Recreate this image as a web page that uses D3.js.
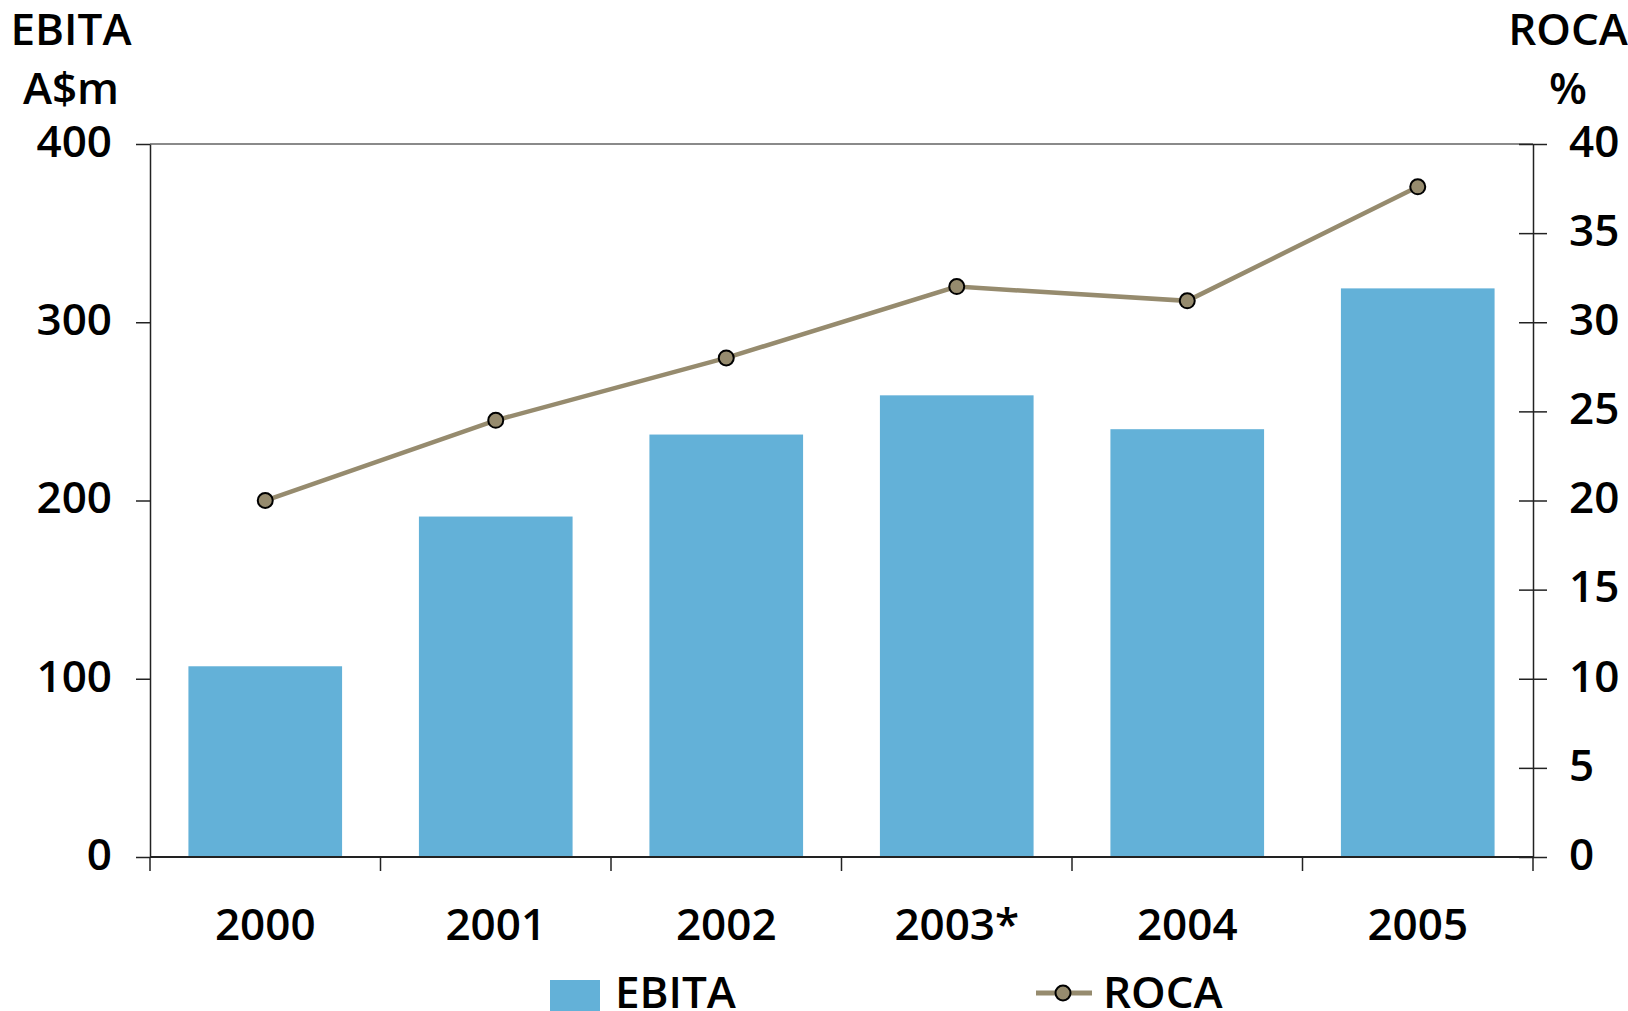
<!DOCTYPE html>
<html>
<head>
<meta charset="utf-8">
<script src="https://cdn.jsdelivr.net/npm/d3@7"></script>
<style>
  html, body { margin: 0; padding: 0; background: #fff; }
  svg { display: block; }
  text { font-family: "Open Sans", "Noto Sans", sans-serif; font-weight: 600; fill: #000; }
</style>
</head>
<body>
<svg id="chart" width="1628" height="1011"></svg>
<script>
// EBITA (A$m, bars, left axis) and ROCA (%, line, right axis) by year
const years = ["2000", "2001", "2002", "2003*", "2004", "2005"];
const ebita = [107, 191, 237, 259, 240, 319];
const roca = [20.0, 24.5, 28.0, 32.0, 31.2, 37.6];
const leftTicks = [0, 100, 200, 300, 400];
const rightTicks = [0, 5, 10, 15, 20, 25, 30, 35, 40];

const svg = d3.select("#chart");
const plot = { left: 150, right: 1533, top: 144, bottom: 857 };

const barColor = "#63b1d8";
const lineColor = "#968b6e";
const fontSize = 44;

const x = d3.scaleBand()
  .domain(years)
  .range([plot.left, plot.right])
  .paddingInner(1 / 3)
  .paddingOuter(1 / 6);

const yL = d3.scaleLinear().domain([0, 400]).range([plot.bottom, plot.top]);
const yR = d3.scaleLinear().domain([0, 40]).range([plot.bottom, plot.top]);

// Bars
svg.append("g")
  .selectAll("rect")
  .data(years)
  .join("rect")
  .attr("x", d => x(d))
  .attr("width", x.bandwidth())
  .attr("y", (d, i) => yL(ebita[i]))
  .attr("height", (d, i) => yL(0) - yL(ebita[i]))
  .attr("fill", barColor);

// Top frame line
svg.append("line")
  .attr("x1", plot.left).attr("x2", plot.right)
  .attr("y1", yL(400)).attr("y2", yL(400))
  .attr("stroke", "#8a8a8a").attr("stroke-width", 2);

// Left axis
const leftAxis = svg.append("g")
  .attr("transform", `translate(${plot.left},0)`)
  .call(d3.axisLeft(yL).tickValues(leftTicks).tickSize(14).tickPadding(24).tickSizeOuter(0));
leftAxis.select(".domain").attr("stroke", "#222").attr("stroke-width", 1.5);
leftAxis.selectAll(".tick line").attr("stroke", "#222").attr("stroke-width", 1.5);
leftAxis.selectAll(".tick text")
  .attr("font-size", fontSize).attr("font-family", null).attr("dy", "0.28em");

// Right axis (ticks cross the axis line)
const rightAxis = svg.append("g")
  .attr("transform", `translate(${plot.right},0)`)
  .call(d3.axisRight(yR).tickValues(rightTicks).tickSize(14).tickPadding(22).tickSizeOuter(0));
rightAxis.select(".domain").attr("stroke", "#222").attr("stroke-width", 1.5);
rightAxis.selectAll(".tick line")
  .attr("x1", -14).attr("x2", 14)
  .attr("stroke", "#222").attr("stroke-width", 1.5);
rightAxis.selectAll(".tick text")
  .attr("font-size", fontSize).attr("font-family", null).attr("dy", "0.28em");

// Bottom axis: ticks at category boundaries, labels centred under bars
const boundaries = d3.range(years.length + 1).map(i => plot.left + i * x.step());
const bottom = svg.append("g");
bottom.append("line")
  .attr("x1", plot.left).attr("x2", plot.right)
  .attr("y1", plot.bottom).attr("y2", plot.bottom)
  .attr("stroke", "#222").attr("stroke-width", 2);
bottom.selectAll("line.tk")
  .data(boundaries)
  .join("line")
  .attr("class", "tk")
  .attr("x1", d => d).attr("x2", d => d)
  .attr("y1", plot.bottom).attr("y2", plot.bottom + 14)
  .attr("stroke", "#222").attr("stroke-width", 1.5);
bottom.selectAll("text")
  .data(years)
  .join("text")
  .attr("x", d => x(d) + x.bandwidth() / 2)
  .attr("y", 940)
  .attr("text-anchor", "middle")
  .attr("font-size", fontSize)
  .text(d => d);

// ROCA line
const pts = years.map((d, i) => [x(d) + x.bandwidth() / 2, yR(roca[i])]);
svg.append("path")
  .attr("d", d3.line()(pts))
  .attr("fill", "none")
  .attr("stroke", lineColor)
  .attr("stroke-width", 4.5);
svg.append("g")
  .selectAll("circle")
  .data(pts)
  .join("circle")
  .attr("cx", d => d[0]).attr("cy", d => d[1])
  .attr("r", 7.5)
  .attr("fill", lineColor)
  .attr("stroke", "#000").attr("stroke-width", 2);

// Axis titles
const titles = [
  { t: "EBITA", x: 71, y: 45 },
  { t: "A$m", x: 71, y: 104 },
  { t: "ROCA", x: 1568, y: 45 },
  { t: "%", x: 1568, y: 104 }
];
svg.append("g")
  .selectAll("text")
  .data(titles)
  .join("text")
  .attr("x", d => d.x).attr("y", d => d.y)
  .attr("text-anchor", "middle")
  .attr("font-size", fontSize)
  .text(d => d.t);

// Legend
const legend = svg.append("g");
legend.append("rect")
  .attr("x", 550).attr("y", 980).attr("width", 50).attr("height", 40)
  .attr("fill", barColor);
legend.append("text")
  .attr("x", 615).attr("y", 1008)
  .attr("font-size", fontSize)
  .text("EBITA");
legend.append("line")
  .attr("x1", 1036).attr("x2", 1092)
  .attr("y1", 993).attr("y2", 993)
  .attr("stroke", lineColor).attr("stroke-width", 5);
legend.append("circle")
  .attr("cx", 1063).attr("cy", 993).attr("r", 7.5)
  .attr("fill", lineColor).attr("stroke", "#000").attr("stroke-width", 2);
legend.append("text")
  .attr("x", 1103).attr("y", 1008)
  .attr("font-size", fontSize)
  .text("ROCA");
</script>
</body>
</html>
